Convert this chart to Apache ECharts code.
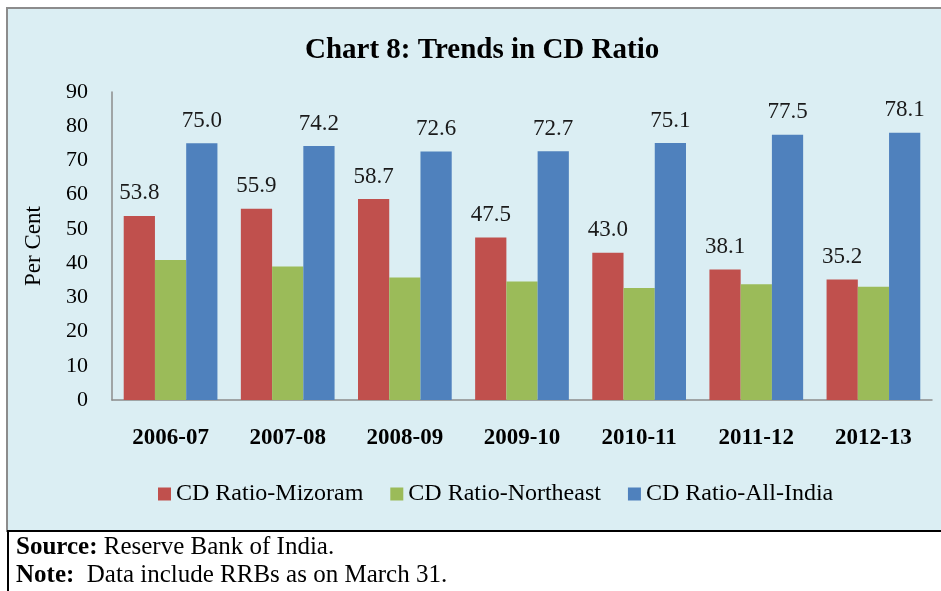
<!DOCTYPE html>
<html>
<head>
<meta charset="utf-8">
<script src="https://cdn.jsdelivr.net/npm/echarts@6/dist/echarts.min.js"></script>
<style>
  html, body { margin: 0; padding: 0; background: #fff; }
  #chart { width: 941px; height: 591px; }
</style>
</head>
<body>
<div id="chart"></div>
<script>
// 年度
var years = ['2006-07', '2007-08', '2008-09', '2009-10', '2010-11', '2011-12', '2012-13']
var seriesNames = ['CD Ratio-Mizoram', 'CD Ratio-Northeast', 'CD Ratio-All-India']
var mizoram = [53.8, 55.9, 58.7, 47.5, 43.0, 38.1, 35.2]
// 东北地区没有标注数值, 按图估算
var northeast = [40.9, 39.0, 35.8, 34.6, 32.7, 33.8, 33.1]
var allIndia = [75.0, 74.2, 72.6, 72.7, 75.1, 77.5, 78.1]
var colors = ['#c0504d', '#9bbb59', '#4f81bd']

var serif = '"Liberation Serif", "DejaVu Serif", serif'
var myChart = echarts.init(document.getElementById('chart'))

function barLabel (show) {
  return {
    show: show,
    position: 'top',
    distance: 11,
    fontFamily: serif,
    fontSize: 23,
    color: '#1a1a1a',
    formatter: function (p) { return p.value.toFixed(1) }
  }
}

var dataList = [mizoram, northeast, allIndia]
var series = []
for (let i = 0; i < dataList.length; i++) {
  series.push({
    name: seriesNames[i],
    type: 'bar',
    data: dataList[i],
    barGap: '0%',
    barCategoryGap: '20%',
    itemStyle: { color: colors[i] },
    label: barLabel(i !== 1)
  })
}

var option = {
  animation: false,
  graphic: [
    // 图表外框与底色
    { type: 'rect', z: -10, shape: { x: 7, y: 8, width: 940, height: 523 },
      style: { fill: '#dbeef3', stroke: '#8c8c8c', lineWidth: 2 } },
    { type: 'line', shape: { x1: 7, y1: 531, x2: 941, y2: 531 },
      style: { stroke: '#000', lineWidth: 2 } },
    { type: 'line', shape: { x1: 8, y1: 531, x2: 8, y2: 591 },
      style: { stroke: '#000', lineWidth: 2 } },
    { type: 'text', left: 16, top: 535,
      style: { text: '{b|Source:} Reserve Bank of India.', font: '25px ' + serif, fill: '#000',
        rich: { b: { fontWeight: 'bold', fontFamily: serif, fontSize: 25 } } } },
    { type: 'text', left: 16, top: 563,
      style: { text: '{b|Note:}  Data include RRBs as on March 31.', font: '25px ' + serif, fill: '#000',
        rich: { b: { fontWeight: 'bold', fontFamily: serif, fontSize: 25 } } } }
  ],
  title: {
    text: 'Chart 8: Trends in CD Ratio',
    left: 300,
    top: 31,
    textStyle: { fontFamily: serif, fontSize: 29, fontWeight: 'bold', color: '#000' }
  },
  legend: {
    left: 153,
    top: 477,
    itemWidth: 13,
    itemHeight: 13,
    itemGap: 27,
    icon: 'rect',
    textStyle: { fontFamily: serif, fontSize: 24, color: '#000' },
    data: seriesNames
  },
  grid: {
    left: 112,
    right: 9,
    top: 92,
    bottom: 191,
    containLabel: false
  },
  xAxis: {
    type: 'category',
    data: years,
    axisLine: { lineStyle: { color: '#8c8c8c', width: 1.5 } },
    axisTick: { show: false },
    axisLabel: { margin: 27, fontFamily: serif, fontSize: 23, fontWeight: 'bold', color: '#000' }
  },
  yAxis: {
    type: 'value',
    min: 0,
    max: 90,
    interval: 10,
    name: 'Per Cent',
    nameLocation: 'middle',
    nameGap: 67,
    nameTextStyle: { fontFamily: serif, fontSize: 23, color: '#000' },
    axisLine: { show: true, lineStyle: { color: '#8c8c8c', width: 1.5 } },
    axisTick: { show: false },
    splitLine: { show: false },
    axisLabel: { margin: 24, fontFamily: serif, fontSize: 22, color: '#000' }
  },
  series: series
}
myChart.setOption(option, true)
</script>
</body>
</html>
